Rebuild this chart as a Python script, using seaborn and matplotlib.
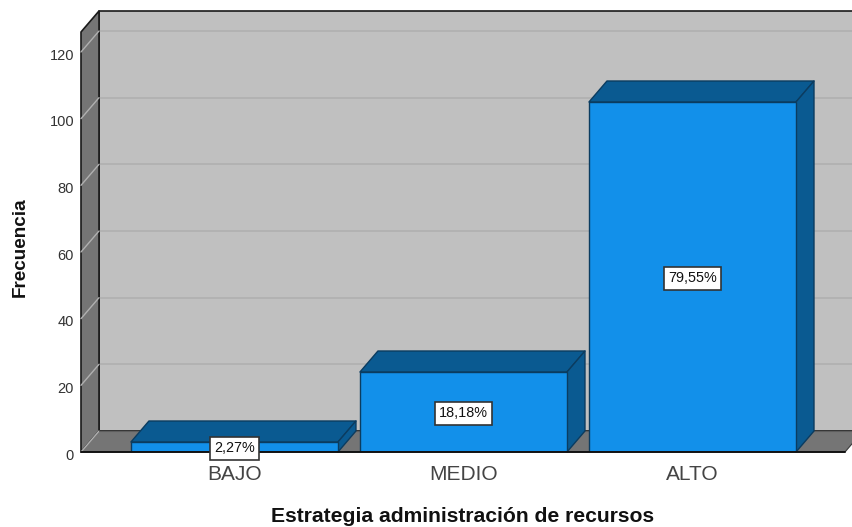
import matplotlib
matplotlib.use('Agg')
import matplotlib.pyplot as plt
from matplotlib.patches import Polygon
from matplotlib.transforms import ScaledTranslation
import pandas as pd
import seaborn as sns

categories = ['BAJO', 'MEDIO', 'ALTO']
frequencies = [3, 24, 105]
percent_labels = ['2,27%', '18,18%', '79,55%']
y_ticks = [0, 20, 40, 60, 80, 100, 120]

# 3D look: depth of the box in data units
DEPTH_X = 0.0786
DEPTH_Y = 6.3
Y_MAX = 126
X_MIN, X_MAX = -0.670, 2.666

FACE = '#1290EA'
SHADE = '#0A5A91'
EDGE = '#0B3C60'
WALL = '#C0C0C0'
SIDE = '#757575'
GRID = '#B0B0B0'

sns.set_theme(style='white')
plt.rcParams['font.family'] = ['Liberation Sans', 'DejaVu Sans']

df = pd.DataFrame({'nivel': categories, 'frecuencia': frequencies})

fig = plt.figure(figsize=(8.53, 5.27), dpi=100)
ax = fig.add_axes([81 / 853, 75 / 527, 764 / 853, 420 / 527])

sns.barplot(data=df, x='nivel', y='frecuencia', order=categories, color=FACE,
            saturation=1, width=0.904, edgecolor=EDGE, linewidth=1, ax=ax, zorder=5)

ax.set_xlim(X_MIN, X_MAX)
ax.set_ylim(0, Y_MAX)


def add_poly(pts, color, z, edge='#1A1A1A', lw=1.2):
    ax.add_patch(Polygon(pts, closed=True, facecolor=color, edgecolor=edge,
                         linewidth=lw, zorder=z, clip_on=False, joinstyle='round'))


# top and side of every bar, taken from the bars seaborn drew
for bar, label in zip(ax.containers[0], percent_labels):
    x0, w, h = bar.get_x(), bar.get_width(), bar.get_height()
    x1 = x0 + w
    add_poly([(x0, h), (x1, h), (x1 + DEPTH_X, h + DEPTH_Y), (x0 + DEPTH_X, h + DEPTH_Y)], SHADE, 4, edge=EDGE, lw=1)
    add_poly([(x1, 0), (x1 + DEPTH_X, DEPTH_Y), (x1 + DEPTH_X, h + DEPTH_Y), (x1, h)], SHADE, 4, edge=EDGE, lw=1)
    ax.annotate(label, (x0 + w / 2, h / 2), xytext=(0, -1), textcoords='offset points',
                ha='center', va='center', fontsize=10.4, color='#111111', zorder=8,
                bbox=dict(boxstyle='square,pad=0.3', facecolor='white', edgecolor='#333333', linewidth=1.2))

# box walls
back_right = X_MAX + DEPTH_X
add_poly([(X_MIN + DEPTH_X, DEPTH_Y), (back_right, DEPTH_Y), (back_right, Y_MAX + DEPTH_Y),
          (X_MIN + DEPTH_X, Y_MAX + DEPTH_Y)], WALL, 1)
add_poly([(X_MIN, 0), (X_MIN + DEPTH_X, DEPTH_Y), (X_MIN + DEPTH_X, Y_MAX + DEPTH_Y),
          (X_MIN, Y_MAX)], SIDE, 2)
add_poly([(X_MIN, 0), (X_MAX, 0), (back_right, DEPTH_Y), (X_MIN + DEPTH_X, DEPTH_Y)], SIDE, 2, edge='none', lw=0)
ax.plot([X_MIN, X_MAX], [0, 0], color='#111111', lw=1.4, zorder=6, clip_on=False)
ax.plot([X_MIN + DEPTH_X, back_right], [DEPTH_Y, DEPTH_Y], color='#5E5E5E', lw=0.8, zorder=3, clip_on=False)
ax.plot([X_MAX, back_right], [0, DEPTH_Y], color='#3A3A3A', lw=0.8, zorder=3, clip_on=False)

# grid on back wall and left wall
for t in y_ticks:
    if t > 0:
        ax.plot([X_MIN + DEPTH_X, back_right], [t + DEPTH_Y, t + DEPTH_Y], color=GRID, lw=1.2, zorder=1.5, clip_on=False)
    ax.plot([X_MIN, X_MIN + DEPTH_X], [t, t + DEPTH_Y], color=GRID, lw=1, zorder=2.5, clip_on=False)

for s in ax.spines.values():
    s.set_visible(False)

ax.set_yticks(y_ticks)
ax.set_xticks(range(len(categories)), categories)
ax.tick_params(axis='y', labelsize=10.5, labelcolor='#333333', length=0, pad=5)
ax.tick_params(axis='x', labelsize=15, labelcolor='#444444', length=0, pad=9)
# y labels sit a little below their grid level in the original
for lab in ax.get_yticklabels():
    lab.set_transform(lab.get_transform() + ScaledTranslation(0, -0.02, fig.dpi_scale_trans))
ax.set_xlabel('')
ax.set_ylabel('')

fig.text(463 / 853, 1 - 516 / 527, 'Estrategia administración de recursos', ha='center', va='center',
         fontsize=15.2, fontweight='bold', color='#111111')
fig.text(20 / 853, 1 - 247 / 527, 'Frecuencia', ha='center', va='center', rotation=90,
         fontsize=13.6, fontweight='bold', color='#111111')

fig.savefig('out.png', dpi=100, facecolor='white')
